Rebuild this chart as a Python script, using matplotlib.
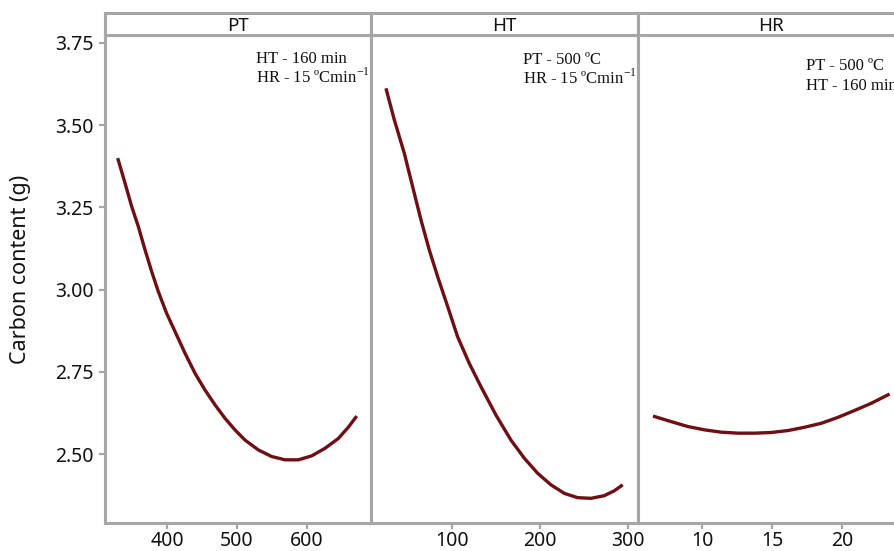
import matplotlib
matplotlib.use("Agg")
import matplotlib.pyplot as plt

# ---- data ----
panels = ["PT", "HT", "HR"]

pt_x = [329.5, 340, 349.5, 359, 368.6, 378.1, 387.6, 399.5, 411.4, 425.7, 440, 454.3, 468.6,
        482.9, 497.1, 511.4, 530.5, 549.5, 568.6, 587.6, 606.7, 625.7, 644.8, 659, 671]
pt_y = [3.400, 3.324, 3.253, 3.192, 3.121, 3.055, 2.994, 2.928, 2.873, 2.807, 2.746, 2.695, 2.650,
        2.609, 2.574, 2.543, 2.513, 2.493, 2.483, 2.483, 2.495, 2.518, 2.548, 2.582, 2.616]

ht_x = [25.0, 34.5, 45.8, 55.3, 64.8, 74.2, 83.7, 95.1, 106.4, 119.7, 133.0, 150.0, 167.0,
        182.2, 197.4, 212.5, 227.7, 242.8, 258.0, 273.1, 284.5, 294.0]
ht_y = [3.612, 3.516, 3.415, 3.313, 3.212, 3.121, 3.040, 2.949, 2.857, 2.776, 2.705, 2.619, 2.543,
        2.488, 2.442, 2.407, 2.381, 2.368, 2.366, 2.374, 2.389, 2.407]

hr_x = [6.5, 7.81, 9.0, 10.19, 11.38, 12.57, 13.76, 14.95, 16.14, 17.33, 18.52, 19.71, 20.9, 22.1, 23.4]
hr_y = [2.616, 2.599, 2.584, 2.574, 2.567, 2.564, 2.564, 2.566, 2.572, 2.582, 2.594, 2.612, 2.633,
        2.655, 2.683]

pt_ticks = [400, 500, 600]
ht_ticks = [100, 200, 300]
hr_ticks = [10, 15, 20]
y_ticks = [2.50, 2.75, 3.00, 3.25, 3.50, 3.75]

notes = [
    ["HT - 160 min", r"HR - 15 ºCmin$^{\mathregular{-1}}$"],
    ["PT - 500 ºC", r"HR - 15 ºCmin$^{\mathregular{-1}}$"],
    ["PT - 500 ºC", "HT - 160 min"],
]

xlims = [(311.4, 691.4), (8, 311.4), (5.43, 24.5)]
ylim = (2.291, 3.774)

# ---- style ----
W, H = 895, 551
fig = plt.figure(figsize=(W / 100, H / 100), dpi=100)
GRAY = "#a6a6a6"
LINE = "#6e0f14"
SPW = 2.2
tickfont = "Noto Sans"
TXT = "#111111"

edges = [105, 371, 638, 905]
plot_top, plot_bot, strip_top = 35, 523, 13

def fx(px):
    return px / W

def fy(py):
    return 1 - py / H

datasets = [(pt_x, pt_y, pt_ticks), (ht_x, ht_y, ht_ticks), (hr_x, hr_y, hr_ticks)]
note_pos = [(256, 63), (523, 64), (806, 70)]

for i, (xs, ys, ticks) in enumerate(datasets):
    l, r = edges[i], edges[i + 1]
    ax = fig.add_axes([fx(l), fy(plot_bot), fx(r - l), (plot_bot - plot_top) / H])
    ax.plot(xs, ys, color=LINE, lw=2.4, solid_capstyle="butt", solid_joinstyle="round")
    ax.set_xlim(*xlims[i])
    ax.set_ylim(*ylim)
    ax.set_xticks(ticks)
    ax.set_xticklabels([str(t) for t in ticks], fontsize=14, family=tickfont, color=TXT)
    for s in ax.spines.values():
        s.set_color(GRAY)
        s.set_linewidth(SPW)
    ax.tick_params(axis="x", color=GRAY, width=1.6, length=4, pad=2)
    if i == 0:
        ax.set_yticks(y_ticks)
        ax.set_yticklabels([f"{v:.2f}" for v in y_ticks], fontsize=14, family=tickfont, color=TXT)
        ax.tick_params(axis="y", color=GRAY, width=1.6, length=4, pad=4)
        ax.set_ylabel("Carbon content (g)", fontsize=15.5, family=tickfont, color=TXT)
        ax.yaxis.set_label_coords((31 - l) / (r - l), (plot_bot - 269) / (plot_bot - plot_top))
    else:
        ax.set_yticks([])
    # strip
    sx = fig.add_axes([fx(l), fy(plot_top), fx(r - l), (plot_top - strip_top) / H])
    sx.set_xticks([]); sx.set_yticks([])
    for s in sx.spines.values():
        s.set_color(GRAY)
        s.set_linewidth(SPW)
    sx.text(0.5, 0.42, panels[i], ha="center", va="center", fontsize=13.5,
            family=tickfont, color=TXT, transform=sx.transAxes)
    # annotation
    nx, ny = note_pos[i]
    for k, t in enumerate(notes[i]):
        fig.text(fx(nx), fy(ny + k * 20), t, ha="left", va="baseline", fontsize=12,
                 family="Liberation Serif", color=TXT)

fig.savefig("out.png", dpi=100)
